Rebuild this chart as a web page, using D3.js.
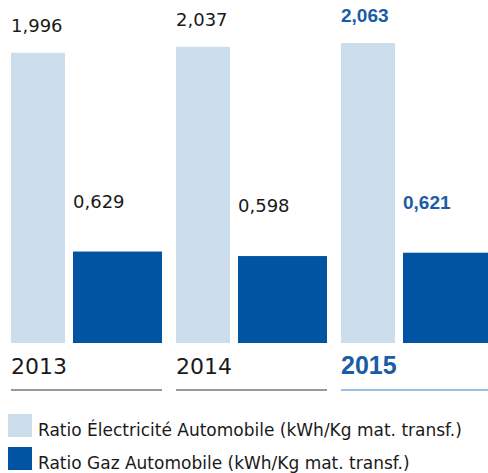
<!DOCTYPE html>
<html>
<head>
<meta charset="utf-8">
<style>
body {
  margin: 0;
  font-family: "DejaVu Sans", sans-serif;
  background: #fff;
}
</style>
</head>
<body>
<div class="container"></div>
<script src="https://d3js.org/d3.v7.min.js"></script>
<script>

var years = ["2013", "2014", "2015"];
var electricite = [1.996, 2.037, 2.063];
var gaz = [0.629, 0.598, 0.621];
var seriesNames = [
  "Ratio Électricité Automobile (kWh/Kg mat. transf.)",
  "Ratio Gaz Automobile (kWh/Kg mat. transf.)"
];
var highlightYear = "2015";

var width = 488,
    height = 473,
    baseline = 343;

var lightBlue = "#ccdeeb",
    darkBlue = "#0054a2",
    textBlue = "#1a5ca5";

var svg = d3.select(".container")
    .append("svg")
    .attr("width", width)
    .attr("height", height);

var x = d3.scaleBand()
    .domain(years)
    .range([11, 492])
    .paddingInner(14 / 165)
    .paddingOuter(0)
    .align(0);

var y = d3.scaleLinear()
    .domain([0, 2])
    .range([baseline, baseline - 290.8]);

// the source writes the decimal point as a comma
var fmt = function(v) { return d3.format(".3f")(v).replace(".", ","); };

var isHi = function(d) { return d === highlightYear; };

// series layout inside each year band
var series = [
  { name: seriesNames[0], values: electricite, fill: lightBlue, dx: 0, w: 54, labelGap: 21 },
  { name: seriesNames[1], values: gaz, fill: darkBlue, dx: 62, w: 89, labelGap: 44 }
];

var groups = svg.selectAll(".year")
    .data(years)
    .enter().append("g")
    .attr("class", "year")
    .attr("transform", function(d) { return "translate(" + x(d) + ",0)"; });

series.forEach(function(s) {
  groups.append("rect")
      .attr("x", s.dx)
      .attr("y", function(d, i) { return y(s.values[i]); })
      .attr("width", s.w)
      .attr("height", function(d, i) { return baseline - y(s.values[i]); })
      .style("fill", s.fill);

  groups.append("text")
      .attr("x", s.dx)
      .attr("y", function(d, i) { return y(s.values[i]) - s.labelGap; })
      .style("font-family", function(d) { return isHi(d) ? "'Liberation Sans', Arial, sans-serif" : null; })
      .style("font-size", function(d) { return isHi(d) ? "19px" : "18px"; })
      .style("font-weight", function(d) { return isHi(d) ? "bold" : "normal"; })
      .style("fill", function(d) { return isHi(d) ? textBlue : "#1a1a1a"; })
      .text(function(d, i) { return fmt(s.values[i]); });
});

groups.append("text")
    .attr("x", 0)
    .attr("y", 374)
    .style("font-family", function(d) { return isHi(d) ? "'Liberation Sans', Arial, sans-serif" : null; })
    .style("font-size", function(d) { return isHi(d) ? "25px" : "22px"; })
    .style("font-weight", function(d) { return isHi(d) ? "bold" : "normal"; })
    .style("fill", function(d) { return isHi(d) ? textBlue : "#1a1a1a"; })
    .text(function(d) { return d; });

groups.append("line")
    .attr("x1", 0)
    .attr("x2", x.bandwidth())
    .attr("y1", 390)
    .attr("y2", 390)
    .style("stroke", function(d) { return isHi(d) ? "#7ea8d8" : "#777"; })
    .style("stroke-width", 1.5);

var legend = svg.selectAll(".legend")
    .data(series)
    .enter().append("g")
    .attr("class", "legend")
    .attr("transform", function(d, i) { return "translate(8," + (414 + i * 33) + ")"; });

legend.append("rect")
    .attr("width", 24)
    .attr("height", 23)
    .style("fill", function(d) { return d.fill; });

legend.append("text")
    .attr("x", 30)
    .attr("y", 22)
    .style("font-size", "17px")
    .style("fill", "#1a1a1a")
    .text(function(d) { return d.name; });

</script>
</body>
</html>
